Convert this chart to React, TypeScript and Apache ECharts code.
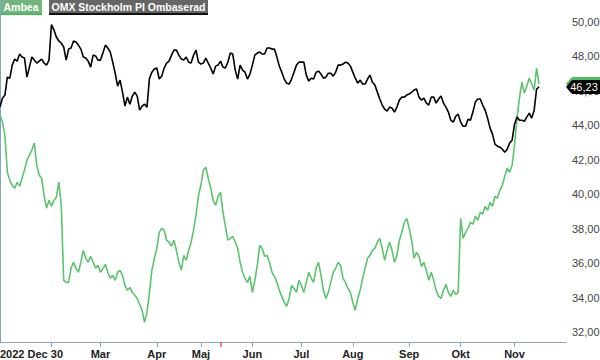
import React, { useEffect, useRef } from "react";
import * as echarts from "echarts";

const seriesNames = ["Ambea", "OMX Stockholm PI Ombaserad"];

// trading-day index 0 = 2022 Dec 30
const monthLabelDays = [0, 41, 64, 82, 103, 123, 144, 167, 188, 210];
const monthLabels = ["2022 Dec 30", "Mar", "Apr", "Maj", "Jun", "Jul", "Aug", "Sep", "Okt", "Nov"];
const monthTickDays = [21, 41, 64, 82, 103, 123, 144, 167, 188, 210];
const eventDays = [90];
const yTicks = [32, 34, 36, 38, 40, 42, 44, 46, 48, 50];

const ambea = [
  44.59, 44.19, 43.43, 41.28, 40.81, 40.52, 40.35, 40.7, 40.47, 40.93,
  41.4, 41.98, 42.27, 42.56, 42.97, 41.69, 41.11, 40.93, 39.94, 39.19,
  39.65, 39.3, 39.65, 39.83, 40.7, 39.36, 35.0, 34.88, 34.88, 35.7,
  36.05, 35.7, 35.47, 36.05, 36.74, 36.28, 36.05, 36.4, 36.05, 35.7,
  35.87, 35.47, 35.7, 35.93, 35.47, 35.12, 35.29, 35.0, 35.47, 35.58,
  35.29, 34.71, 34.42, 34.59, 34.3, 34.13, 33.95, 33.6, 33.26, 32.56,
  33.14, 34.3, 35.58, 36.28, 36.86, 37.79, 38.02, 37.91, 37.33, 37.21,
  36.98, 37.33, 36.74, 36.05, 35.58, 36.45, 36.16, 36.74, 37.21, 37.91,
  38.78, 39.94, 40.52, 41.4, 41.57, 40.93, 40.35, 39.65, 39.36, 39.88,
  40.12, 38.95, 38.14, 37.33, 37.44, 37.56, 37.21, 36.86, 36.05, 35.47,
  35.12, 34.88, 35.23, 34.3, 35.0, 35.87, 37.03, 36.86, 36.4, 36.45,
  36.05, 35.47, 35.23, 34.88, 34.42, 34.07, 33.72, 33.49, 33.95, 34.71,
  34.53, 34.3, 35.0, 34.71, 34.3, 34.88, 35.47, 35.12, 34.88, 35.7,
  36.05, 35.29, 34.42, 33.95, 34.3, 34.88, 35.47, 35.7, 36.05, 35.87,
  35.12, 34.88, 34.53, 34.3, 33.72, 33.26, 33.95, 34.42, 35.12, 35.7,
  36.28, 36.45, 36.74, 36.86, 37.21, 37.44, 36.86, 36.16, 36.74, 37.21,
  36.74, 36.05, 36.45, 37.33, 37.79, 38.37, 38.6, 38.02, 37.33, 36.28,
  36.63, 36.4, 35.81, 36.05, 35.58, 35.0, 35.47, 35.0, 34.42, 34.07,
  33.95, 34.42, 34.77, 34.3, 34.07, 34.42, 34.19, 34.3, 38.6, 37.44,
  37.79, 38.02, 38.37, 38.26, 38.72, 38.49, 38.95, 38.84, 39.3, 39.07,
  39.53, 39.3, 39.88, 39.77, 40.23, 40.52, 41.05, 41.51, 41.28, 41.69,
  42.85, 44.42, 45.58, 46.51, 45.88, 46.28, 46.74, 46.4, 46.05, 47.33, 46.4,
];

const omx = [
  45.06, 45.58, 45.76, 46.8, 46.74, 47.5, 47.85, 47.73, 48.14, 47.97,
  47.91, 46.8, 47.38, 47.97, 47.79, 47.62, 47.73, 47.85, 47.62, 47.5,
  47.79, 49.85, 49.55, 49.13, 48.9, 48.78, 48.55, 47.79, 48.43, 48.49,
  48.9, 48.84, 48.66, 48.43, 47.97, 47.91, 47.73, 47.38, 48.08, 48.03,
  47.79, 47.79, 48.2, 48.66, 48.49, 48.26, 47.67, 47.03, 46.28, 46.63,
  45.93, 45.12, 45.64, 45.23, 45.7, 45.93, 45.7, 44.88, 45.12, 45.23,
  45.06, 46.74, 47.09, 47.27, 47.33, 46.69, 46.86, 47.33, 47.62, 47.73,
  48.08, 48.37, 48.37, 48.08, 47.85, 47.79, 47.97, 47.67, 47.62, 48.08,
  48.37, 47.67, 47.56, 47.62, 47.91, 47.62, 47.33, 46.98, 47.44, 47.5,
  47.73, 47.38, 47.33, 47.67, 48.2, 48.14, 47.21, 46.69, 47.5, 47.21,
  47.09, 46.69, 46.98, 47.5, 48.08, 48.2, 48.26, 48.14, 48.14, 48.49,
  48.49, 48.43, 48.43, 47.97, 47.44, 47.09, 46.69, 46.45, 46.4, 46.69,
  47.09, 47.5, 47.67, 47.67, 47.67, 46.92, 46.57, 46.74, 46.69, 47.09,
  47.15, 46.98, 46.74, 46.8, 47.03, 47.03, 46.86, 47.09, 47.5, 47.5,
  47.56, 47.67, 47.62, 47.44, 47.09, 46.74, 46.45, 46.63, 46.4, 46.4,
  46.69, 46.92, 46.51, 46.34, 45.93, 45.53, 45.18, 44.94, 44.83, 45.06,
  45.0, 44.77, 45.06, 45.47, 45.64, 45.64, 45.76, 45.82, 45.93, 46.05,
  46.11, 45.64, 45.47, 45.58, 45.29, 45.18, 45.64, 45.64, 45.29, 45.53,
  45.7, 45.29, 45.06, 44.77, 44.3, 44.19, 44.53, 44.65, 44.19, 43.95,
  43.95, 44.36, 44.3, 44.77, 45.35, 45.53, 45.53, 45.18, 44.88, 44.42,
  43.84, 43.49, 42.91, 42.79, 42.73, 42.62, 42.44, 42.62, 42.97, 43.14,
  44.07, 44.48, 44.3, 44.3, 44.24, 44.48, 44.71, 44.42, 44.88, 46.11, 46.23,
];

const X_MAX = 231;
const fmt = (v: number) => v.toFixed(2).replace(".", ",");
const tagPath =
  "path://M0,7 L5,1 Q6,0 7.5,0 L38,0 Q40,0 40,2 L40,12 Q40,14 38,14 L7.5,14 Q6,14 5,13 Z";

function endTag(values: number[], fill: string, showText: boolean) {
  const last = values[values.length - 1];
  return {
    silent: true,
    animation: false,
    symbol: tagPath,
    symbolSize: [40, 14],
    symbolKeepAspect: false,
    symbolOffset: ["50%", 0],
    itemStyle: { color: fill },
    label: {
      show: showText,
      position: "inside",
      offset: [-2, 0],
      formatter: () => fmt(last),
      color: "#ffffff",
      fontSize: 11,
      fontFamily: "Liberation Sans, Arial, sans-serif",
    },
    data: [{ coord: [X_MAX, last] }],
  };
}

export default function App() {
  const ref = useRef<HTMLDivElement>(null);
  useEffect(() => {
    if (!ref.current) return;
    const chart = echarts.init(ref.current, null, { renderer: "svg" });
    const font = "Liberation Sans, Arial, sans-serif";
    const axisColor = "#84a6bf";
    chart.setOption({
      animation: false,
      backgroundColor: "#ffffff",
      grid: { left: 0, right: 34, top: 0, bottom: 18, containLabel: false, outerBoundsMode: "none" },
      xAxis: [
        {
          type: "value",
          min: 0,
          max: X_MAX,
          axisLine: { show: true, lineStyle: { color: axisColor, width: 1 } },
          axisTick: { show: true, length: 5, lineStyle: { color: axisColor }, customValues: monthTickDays },
          splitLine: { show: false },
          axisLabel: {
            customValues: monthLabelDays,
            formatter: (v: number) => {
              const i = monthLabelDays.indexOf(Math.round(v));
              return i >= 0 ? monthLabels[i] : "";
            },
            alignMinLabel: "left",
            showMinLabel: true,
            showMaxLabel: true,
            fontWeight: "bold",
            fontSize: 11,
            color: "#222",
            fontFamily: font,
            margin: 6,
          },
        },
        {
          type: "value",
          min: 0,
          max: X_MAX,
          position: "bottom",
          axisLine: { show: false },
          axisTick: { show: true, length: 5, lineStyle: { color: "#ff4d4d", width: 1.5 }, customValues: eventDays },
          axisLabel: { show: false },
          splitLine: { show: false },
        },
      ],
      yAxis: {
        type: "value",
        position: "right",
        min: 31.42,
        max: 51.28,
        axisLine: { show: true, lineStyle: { color: axisColor, width: 1 } },
        axisTick: { show: false },
        splitLine: { show: false },
        axisLabel: {
          customValues: yTicks,
          formatter: (v: number) => fmt(v),
          fontSize: 11,
          color: "#444",
          fontFamily: font,
          margin: 6,
        },
      },
      series: [
        {
          name: seriesNames[0],
          type: "line",
          showSymbol: false,
          data: ambea.map((v, i) => [i, v]),
          lineStyle: { color: "#5cc46e", width: 1.6 },
          itemStyle: { color: "#5cc46e" },
          markPoint: endTag(ambea, "#4cc05e", false),
          z: 2,
        },
        {
          name: seriesNames[1],
          type: "line",
          showSymbol: false,
          data: omx.map((v, i) => [i, v]),
          lineStyle: { color: "#000000", width: 1.6 },
          itemStyle: { color: "#000000" },
          markPoint: endTag(omx, "#000000", true),
          z: 3,
        },
      ],
      graphic: [
        { type: "rect", left: 0, top: 0, shape: { width: 42, height: 13 }, style: { fill: "#74b57e" } },
        { type: "rect", left: 0, top: 13, shape: { width: 42, height: 2 }, style: { fill: "#42c05a" } },
        {
          type: "text",
          x: 21,
          y: 7,
          style: {
            text: seriesNames[0],
            fill: "#ffffff",
            font: "bold 10.5px Liberation Sans, Arial, sans-serif",
            align: "center",
            verticalAlign: "middle",
          },
        },
        { type: "rect", left: 49, top: 0, shape: { width: 159, height: 13 }, style: { fill: "#666666" } },
        { type: "rect", left: 49, top: 13, shape: { width: 159, height: 2 }, style: { fill: "#111111" } },
        {
          type: "text",
          x: 128.5,
          y: 7,
          style: {
            text: seriesNames[1],
            fill: "#ffffff",
            font: "bold 10.5px Liberation Sans, Arial, sans-serif",
            align: "center",
            verticalAlign: "middle",
          },
        },
      ],
    });
    return () => chart.dispose();
  }, []);
  return <div ref={ref} style={{ position: "absolute", left: 0, top: 0, width: 600, height: 360 }} />;
}
